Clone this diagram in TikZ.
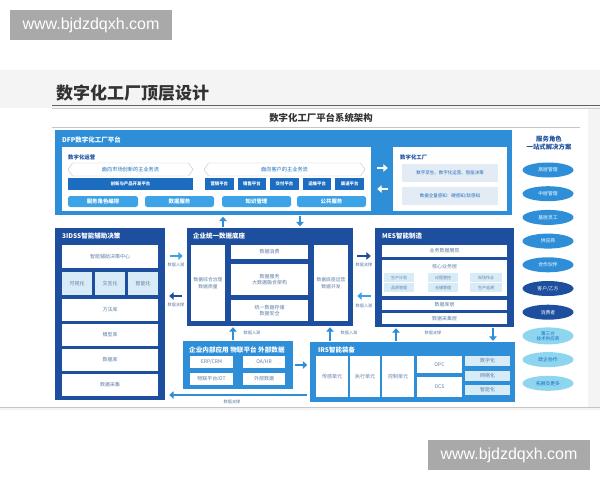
\documentclass[tikz,border=0pt]{standalone}
\usepackage{fontspec}
\setmainfont{Noto Sans CJK SC}
\newfontfamily\webfont{Liberation Sans}
\usepackage{xcolor}
\usepackage{tikz}
\usetikzlibrary{shapes.geometric, shapes.symbols, arrows.meta, positioning}
\definecolor{FabDark}{HTML}{1D4F9E}
\definecolor{FabMid}{HTML}{2E8FD8}
\definecolor{FabTab}{HTML}{3BA3E6}
\definecolor{FabPlat}{HTML}{1C6CC0}
\definecolor{FabLight}{HTML}{D8ECF8}
\definecolor{FabPale}{HTML}{E3ECF5}
\definecolor{FabCyan}{HTML}{8ED5F0}
\definecolor{FabText}{HTML}{5E7FA6}
\definecolor{FabMark}{HTML}{A9A9A9}
\definecolor{FabHead}{HTML}{333333}
\tikzset{
    wh/.style 2 args={minimum width=#1pt, minimum height=#2pt},
    darkpanel/.style={rectangle, fill=FabDark, inner sep=0pt},
    midpanel/.style={rectangle, fill=FabMid, inner sep=0pt},
    paneltitle/.style={anchor=west, inner sep=0pt, text=white, font=\fontsize{6.5}{7}\selectfont\bfseries},
    whitebox/.style={rectangle, fill=white, inner sep=0pt, align=center, text=FabText,
        font=\fontsize{5}{6.4}\selectfont},
    lightbox/.style={whitebox, fill=FabLight},
    palebox/.style={whitebox, fill=FabPale, text=FabPlat, font=\fontsize{4.5}{5.4}\selectfont},
    platbox/.style={rectangle, fill=FabPlat, inner sep=0pt, text=white, font=\fontsize{4.4}{5}\selectfont\bfseries},
    tabbox/.style={rectangle, rounded corners=2.5pt, fill=FabTab, inner sep=0pt, text=white,
        font=\fontsize{5.4}{6}\selectfont\bfseries},
    flowbox/.style={signal, signal to=east and west, signal pointer angle=110, draw=FabText!45,
        fill=white, inner sep=0pt, text=FabPlat, font=\fontsize{5.2}{6}\selectfont},
    rolebox/.style={ellipse, minimum width=51pt, minimum height=15pt, inner sep=0pt, align=center,
        text=white, fill=FabMid, font=\fontsize{4.8}{5.4}\selectfont},
    roledark/.style={rolebox, fill=FabDark},
    rolecyan/.style={rolebox, fill=FabCyan, text=FabPlat},
    blockarrow/.style={-{Triangle[length=4.5pt, width=7.5pt]}, line width=2.6pt},
    flowlabel/.style={inner sep=0pt, text=FabText, font=\fontsize{4.2}{5}\selectfont},
    markbox/.style={rectangle, fill=FabMark, text=white, inner sep=0pt, wh={162}{30},
        font=\webfont\fontsize{16}{18}\selectfont},
}

\begin{document}
\begin{tikzpicture}[x=1pt, y=-1pt]
    \useasboundingbox (0,0) rectangle (600,480);
    \fill[white] (0,0) rectangle (600,480);
    % slide background
    \fill[gray!9] (0,70) rectangle (600,410);
    \fill[white] (0,108) rectangle (588,407);
    \draw[gray!45] (0,407.5) -- (600,407.5);

    % watermarks
    \node[markbox] (mark1) at (91,25) {www.bjdzdqxh.com};
    \node[markbox] (mark2) at (509,455) {www.bjdzdqxh.com};

    % titles
    \node[anchor=west, inner sep=0pt, text=FabHead, font=\fontsize{17}{18}\selectfont\bfseries] (title) at (56,93) {数字化工厂顶层设计};
    \draw[line width=1.4pt, gray!75!black] (52,105.5) -- (600,105.5);
    \draw[gray!40] (52,108) -- (600,108);
    \node[inner sep=0pt, text=FabHead, font=\fontsize{9.4}{10}\selectfont\bfseries] (subtitle) at (321,118) {数字化工厂平台系统架构};
    \draw[gray!45] (52,127.5) -- (580,127.5);

    % DFP platform
    \node[midpanel, wh={457}{85}] (dfp) at (283.5,172.5) {};
    \node[paneltitle] at (62,140) {DFP数字化工厂平台};
    \node[whitebox, wh={309}{64}] (ops) at (216.5,179) {};
    \node[anchor=west, inner sep=0pt, text=FabDark, font=\fontsize{5.4}{6}\selectfont\bfseries] at (68,157) {数字化运营};
    \node[flowbox, wh={125}{13}] (flow1) at (130.5,169.5) {面向市场创新的主业务流};
    \node[flowbox, wh={161}{13}] (flow2) at (284.5,169.5) {面向客户的主业务流};
    \node[platbox, wh={125}{12}] (innov) at (130.5,184) {创新与产品开发平台};
    \node[platbox, wh={28.6}{12}] (market) at (219.3,184) {营销平台};
    \node[platbox, wh={28.6}{12}] (sales) at (251.9,184) {销售平台};
    \node[platbox, wh={28.6}{12}] (deliver) at (284.5,184) {交付平台};
    \node[platbox, wh={28.6}{12}] (maint) at (317.1,184) {运维平台};
    \node[platbox, wh={28.6}{12}] (channel) at (349.7,184) {渠道平台};
    \node[tabbox, wh={70}{11}] (roles) at (103,201.5) {服务角色编排};
    \node[tabbox, wh={69}{11}] (dataserv) at (179.5,201.5) {数据服务};
    \node[tabbox, wh={69}{11}] (know) at (256.5,201.5) {知识管理};
    \node[tabbox, wh={69}{11}] (public) at (331.5,201.5) {公共服务};

    \node[whitebox, wh={114}{64}] (dfpanel) at (450,179) {};
    \node[anchor=west, inner sep=0pt, text=FabDark, font=\fontsize{5.4}{6}\selectfont\bfseries] at (400,157) {数字化工厂};
    \node[palebox, wh={96}{18}] (twin) at (450,173) {数字孪生、数字化运营、智能决策};
    \node[palebox, wh={96}{18}] (sense) at (450,196) {数据全量感知：硬感知/软感知};

    \coordinate (dfpin) at (0,168);
    \coordinate (dfpout) at (0,189);
    \draw[blockarrow, white, shorten <=6pt, shorten >=5pt] (ops.east |- dfpin) -- (dfpanel.west |- dfpin);
    \draw[blockarrow, white, shorten <=5pt, shorten >=6pt] (dfpanel.west |- dfpout) -- (ops.east |- dfpout);

    % service roles
    \node[align=center, inner sep=0pt, text=FabDark, font=\fontsize{6.4}{8.4}\selectfont\bfseries] (rolehead) at (549,143) {服务角色\\一站式解决方案};
    \node[rolebox] (r1) at (548,170) {高层管理};
    \node[rolebox] (r2) at (548,193.7) {中层管理};
    \node[rolebox] (r3) at (548,217.4) {基层员工};
    \node[rolebox] (r4) at (548,241.1) {供应商};
    \node[rolebox] (r5) at (548,264.8) {合作伙伴};
    \node[roledark] (r6) at (548,288.5) {客户/乙方};
    \node[roledark] (r7) at (548,312.2) {消费者};
    \node[rolecyan, minimum height=17pt, font=\fontsize{4.6}{5}\selectfont] (r8) at (548,335.9) {第三方\\技术供应商};
    \node[rolecyan] (r9) at (548,359.6) {政企协作};
    \node[rolecyan] (r10) at (548,383.3) {拓展及更多};

    % 3IDSS
    \node[darkpanel, wh={110}{172}] (idss) at (110,314) {};
    \node[paneltitle] at (62,236) {3IDSS智能辅助决策};
    \node[whitebox, wh={96}{23}] (center) at (110,256.5) {智能辅助决策中心};
    \node[lightbox, wh={30}{23}] (visual) at (77,283.5) {可视化};
    \node[lightbox, wh={30}{23}] (interact) at (110,283.5) {交互化};
    \node[lightbox, wh={30}{23}] (smart) at (143,283.5) {智能化};
    \node[whitebox, wh={96}{22}] (method) at (110,310) {方法库};
    \node[whitebox, wh={96}{22}] (model) at (110,335) {模型库};
    \node[whitebox, wh={96}{22}] (database) at (110,360) {数据库};
    \node[whitebox, wh={96}{22}] (collect) at (110,385) {数据采集};

    % data base
    \node[darkpanel, wh={166}{98}] (base) at (270,277) {};
    \node[paneltitle] at (193,236) {企业统一数据底座};
    \node[whitebox, wh={34}{76}, font=\fontsize{4.8}{6.4}\selectfont] (govern) at (208,283) {数据综合治理\\数据质量};
    \node[whitebox, wh={77}{14}] (consume) at (269.5,252) {数据消费};
    \node[whitebox, wh={77}{31}] (service) at (269.5,279.5) {数据服务\\大数据融合架构};
    \node[whitebox, wh={77}{21}] (store) at (269.5,310.5) {统一数据存储\\数据安全};
    \node[whitebox, wh={34}{76}, font=\fontsize{4.8}{6.4}\selectfont] (operate) at (331,283) {数据底座运营\\数据开发};

    % MES
    \node[darkpanel, wh={139}{99}] (mes) at (444.5,277.5) {};
    \node[paneltitle] at (382,236) {MES智能制造};
    \node[whitebox, wh={125}{12}] (present) at (444.5,251) {业务数据展现};
    \node[whitebox, wh={125}{36}] (core) at (444.5,278) {};
    \node[inner sep=0pt, text=FabText, font=\fontsize{5}{6}\selectfont] at (444.5,266.5) {核心业务层};
    \node[lightbox, wh={30}{8.5}, font=\fontsize{4}{5}\selectfont] (plan) at (399,277.5) {生产计划};
    \node[lightbox, wh={30}{8.5}, font=\fontsize{4}{5}\selectfont] (process) at (443,277.5) {过程管控};
    \node[lightbox, wh={32}{8.5}, font=\fontsize{4}{5}\selectfont] (site) at (486,277.5) {现场作业};
    \node[lightbox, wh={30}{8.5}, font=\fontsize{4}{5}\selectfont] (quality) at (399,287.5) {品质管理};
    \node[lightbox, wh={30}{8.5}, font=\fontsize{4}{5}\selectfont] (stock) at (443,287.5) {仓储管理};
    \node[lightbox, wh={32}{8.5}, font=\fontsize{4}{5}\selectfont] (trace) at (486,287.5) {生产追溯};
    \node[whitebox, wh={125}{10.5}] (dblayer) at (444.5,305) {数据库层};
    \node[whitebox, wh={125}{11}] (collayer) at (444.5,318.5) {数据采集层};

    % inner applications
    \node[midpanel, wh={110}{48}] (inner) at (238,365) {};
    \node[paneltitle, font=\fontsize{6.6}{7}\selectfont\bfseries] at (189,350) {企业内部应用 物联平台 外部数据};
    \node[whitebox, wh={43}{12}] (erp) at (211.5,362) {ERP/CRM};
    \node[whitebox, wh={42}{12}] (oa) at (264,362) {OA/HR};
    \node[whitebox, wh={43}{12}] (iot) at (211.5,379) {物联平台IOT};
    \node[whitebox, wh={42}{12}] (extern) at (264,379) {外部数据};

    % IRS
    \node[midpanel, wh={205}{60}] (irs) at (412.5,372) {};
    \node[paneltitle] at (318,350) {IRS智能装备};
    \node[whitebox, wh={32}{41}] (sensor) at (332,376.5) {传感单元};
    \node[whitebox, wh={30}{41}] (actor) at (365,376.5) {执行单元};
    \node[whitebox, wh={32}{41}] (control) at (398,376.5) {控制单元};
    \node[whitebox, wh={45}{17}] (opc) at (439.5,364.5) {OPC};
    \node[whitebox, wh={45}{20}] (dcs) at (439.5,387) {DCS};
    \node[lightbox, wh={45}{10}] (digit) at (487.5,361) {数字化};
    \node[lightbox, wh={45}{10}] (network) at (487.5,375.5) {网络化};
    \node[lightbox, wh={45}{10}] (intel) at (487.5,390) {智能化};

    % arrows between layers
    \coordinate (colup) at (223,0);
    \coordinate (coldown) at (300,0);
    \draw[blockarrow, FabMid, shorten <=0.5pt, shorten >=1.5pt] (base.north -| colup) -- (dfp.south -| colup);
    \draw[blockarrow, FabMid, shorten <=0.5pt, shorten >=1.5pt] (dfp.south -| coldown) -- (base.north -| coldown);

    \coordinate (rowin) at (0,256);
    \coordinate (rowout) at (0,296);
    \draw[blockarrow, FabTab, shorten <=5pt, shorten >=4pt] (idss.east |- rowin) -- (base.west |- rowin);
    \node[flowlabel] at (176,265) {数据入湖};
    \draw[blockarrow, FabDark, shorten <=5pt, shorten >=4pt] (base.west |- rowout) -- (idss.east |- rowout);
    \node[flowlabel] at (176,305) {数据支撑};
    \draw[blockarrow, FabDark, shorten <=4pt, shorten >=4pt] (base.east |- rowin) -- (mes.west |- rowin);
    \node[flowlabel] at (364,265) {数据支撑};
    \draw[blockarrow, FabTab, shorten <=4pt, shorten >=4pt] (mes.west |- rowout) -- (base.east |- rowout);
    \node[flowlabel] at (364,306) {数据入湖};

    \coordinate (lakeleft) at (233,0);
    \coordinate (lakeright) at (330,0);
    \coordinate (mesup) at (396,0);
    \coordinate (mesdown) at (493,0);
    \draw[blockarrow, FabMid, shorten <=0.5pt, shorten >=1pt] (inner.north -| lakeleft) -- (base.south -| lakeleft);
    \node[flowlabel] at (252,333) {数据入湖};
    \draw[blockarrow, FabMid, shorten <=0.5pt, shorten >=1pt] (irs.north -| lakeright) -- (base.south -| lakeright);
    \node[flowlabel] at (349,333) {数据入湖};
    \draw[blockarrow, FabMid, shorten <=0.5pt, shorten >=1pt] (irs.north -| mesup) -- (mes.south -| mesup);
    \node[flowlabel] at (433,333) {数据支撑};
    \draw[blockarrow, FabMid, shorten <=0.5pt, shorten >=1pt] (mes.south -| mesdown) -- (irs.north -| mesdown);

    \draw[blockarrow, FabMid, shorten <=2pt, shorten >=2.5pt] (inner.east) -- (irs.west |- inner.east);
    \coordinate (supportstart) at (307,395);
    \draw[blockarrow, FabMid, shorten >=4pt] (supportstart) -- (idss.east |- supportstart);
    \node[flowlabel] at (232,401.5) {数据支撑};
\end{tikzpicture}
\end{document}
